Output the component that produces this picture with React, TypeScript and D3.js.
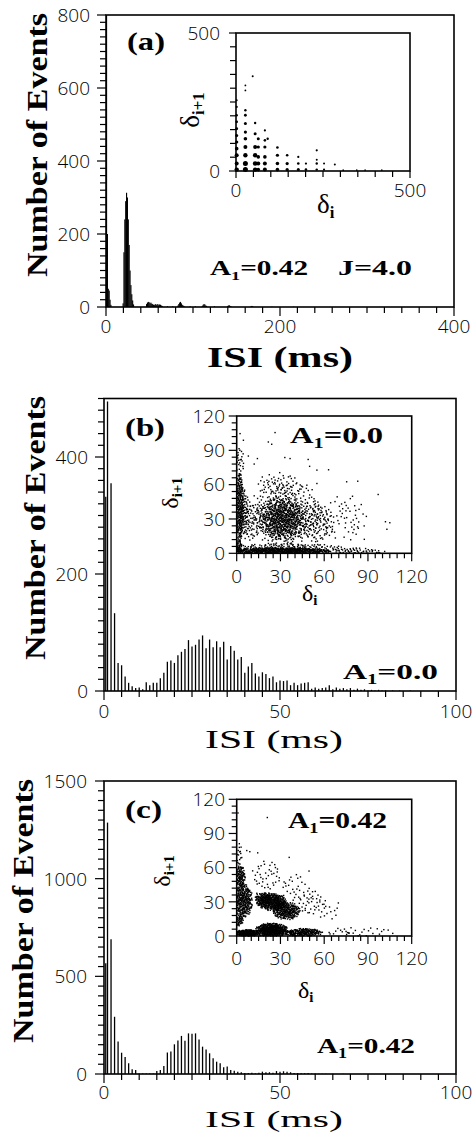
import React from 'react';
import * as d3 from 'd3';

// ---------- DATA ----------
// Panel (a): ISI histogram (1 ms bins), ISI in ms and counts
const isiA = [0, 1, 2, 3, 4, 5,
  19, 20, 21, 22, 23, 24, 25, 26, 27, 28, 29, 30, 31,
  46, 47, 48, 49, 50, 51, 52, 53, 54, 55, 56, 57, 58, 59, 60, 61, 62, 63, 64,
  70, 76, 82, 83, 84, 85, 86, 87, 88, 89, 96, 102,
  110, 111, 112, 113, 114, 115, 124, 139, 140, 141, 142, 143, 166, 167, 168, 190, 215];
const countA = [830, 200, 50, 45, 20, 6,
  10, 150, 240, 290, 313, 300, 240, 170, 100, 60, 35, 18, 7,
  8, 12, 14, 13, 10, 12, 9, 8, 6, 5, 8, 6, 7, 8, 5, 7, 6, 4, 3,
  2, 2, 4, 8, 12, 14, 10, 6, 4, 3, 2, 2,
  3, 6, 8, 7, 4, 3, 2, 2, 4, 5, 3, 2, 2, 3, 2, 1, 1];

// Panel (b): counts per 1-ms bin, ISI = index (0..99)
const countB = [332, 495, 355, 133, 48, 44, 25, 14, 8, 5,
  6, 3, 15, 10, 14, 14, 22, 31, 50, 52,
  48, 61, 67, 72, 87, 76, 79, 88, 95, 73,
  88, 75, 85, 75, 84, 54, 77, 69, 54, 58,
  31, 42, 48, 30, 25, 32, 29, 22, 25, 15,
  18, 17, 18, 10, 14, 10, 13, 14, 15, 4,
  6, 4, 5, 6, 10, 3, 6, 4, 5, 3,
  5, 2, 4, 2, 3, 1, 2, 1, 2, 1,
  1, 0, 1, 0, 1, 0, 0, 1, 0, 0,
  0, 0, 0, 0, 0, 0, 0, 0, 0, 0];

// Panel (c): counts per 1-ms bin, ISI = index (0..99)
const countC = [567, 1287, 690, 293, 167, 109, 87, 55, 24, 20,
  3, 2, 2, 3, 3, 15, 20, 41, 110, 115,
  152, 172, 195, 170, 208, 206, 208, 177, 140, 126,
  106, 80, 63, 55, 34, 38, 20, 17, 12, 9,
  5, 5, 7, 3, 7, 12, 9, 9, 7, 15,
  12, 14, 12, 9, 5, 5, 4, 4, 5, 2,
  2, 1, 1, 1, 0, 1, 0, 0, 1, 0,
  0, 0, 0, 0, 0, 0, 0, 0, 0, 0,
  0, 0, 0, 0, 0, 0, 0, 0, 0, 0,
  0, 0, 0, 0, 0, 0, 0, 0, 0, 0];

// Inset (a): return map lattice points [delta_i, delta_i+1, dot radius]
const returnA: [number, number, number][] = [
  [2, 5, 2.2], [2, 27, 2.0], [2, 57, 2.0], [2, 81, 1.8], [2, 105, 1.6], [2, 129, 1.5], [2, 153, 1.4], [2, 178, 1.3], [2, 202, 1.2], [2, 232, 1.1], [2, 256, 1.0],
  [27, 5, 2.5], [27, 27, 2.5], [27, 57, 2.2], [27, 87, 2.0], [27, 117, 1.8], [27, 141, 1.6], [27, 172, 1.5], [27, 202, 1.4], [27, 220, 1.2], [27, 292, 0.9], [27, 310, 0.9],
  [48, 343, 1.0],
  [55, 5, 2.2], [55, 27, 2.3], [55, 57, 2.2], [55, 87, 2.0], [55, 135, 1.5], [55, 174, 1.2],
  [64, 5, 1.8], [64, 27, 2.0], [64, 51, 1.8], [64, 87, 1.6], [64, 117, 1.5],
  [83, 5, 2.0], [83, 27, 2.0], [83, 51, 1.8], [83, 87, 1.6], [83, 111, 1.3], [83, 147, 1.1],
  [91, 117, 1.2],
  [119, 5, 1.8], [119, 27, 1.8], [119, 57, 1.6], [119, 85, 1.3],
  [147, 5, 1.6], [147, 27, 1.6], [147, 57, 1.3],
  [179, 5, 1.5], [179, 27, 1.3], [179, 51, 1.1],
  [201, 5, 1.3], [201, 27, 1.1],
  [232, 5, 1.2], [232, 27, 1.2], [232, 41, 1.0], [232, 75, 1.1],
  [253, 5, 1.1], [253, 27, 1.0], [284, 24, 1.0],
  [308, 3, 0.8], [347, 3, 0.8], [371, 3, 0.8], [419, 3, 0.8]];

// Inset (b): density blobs [cx, cy, rx, ry, dots, falloff] and isolated points
const blobsB: [number, number, number, number, number, number][] = [
  [2, 40, 2.8, 30, 260, 0.2], [5, 35, 3.5, 25, 80, 0.5], [2.5, 80, 3, 14, 25, 0.5], [1.5, 7, 2, 6, 40, 0.3],
  [30, 2, 34, 2.8, 520, 0.2], [36, 5, 40, 4, 150, 0.5], [80, 2, 22, 3, 60, 0.5],
  [31, 30, 19, 22, 650, 1.2], [34, 34, 28, 30, 330, 0.6], [55, 27, 13, 18, 120, 0.8], [30, 60, 17, 11, 60, 0.6],
  [75, 30, 16, 21, 55, 0.5], [10, 28, 6, 18, 60, 0.5]];
const pointsB: [number, number][] = [
  [2.3, 104.6], [4.6, 98.8], [26.3, 105.5], [21.7, 97.3], [24, 95.3], [14.2, 82.8], [33, 83.7],
  [36.6, 82.8], [49, 82], [55, 61], [63, 73], [75.4, 62.5], [83, 63], [97, 51.4], [102, 27.6],
  [105, 26.7], [103, 21], [87.5, 12.2], [97, 0.6], [50, 76], [55, 72.7], [8, 85], [12, 78]];

// Inset (c): density blobs and isolated points
const blobsC: [number, number, number, number, number, number][] = [
  [2.5, 52, 3.5, 10, 110, 0.4], [4.5, 31, 6.5, 16, 320, 0.5], [2, 13, 3, 4.5, 40, 0.4], [1.5, 70, 2, 12, 15, 0.3],
  [7, 2.5, 8, 3.2, 200, 0.3],
  [24, 30, 11, 8, 380, 0.6], [34, 22, 10, 8, 270, 0.6], [18, 34, 6, 5, 60, 0.5],
  [24, 5, 11.5, 6.5, 470, 0.5], [47, 3, 12, 4, 180, 0.5], [37, 2, 3.5, 2.5, 30, 0.4],
  [20, 53, 10, 13, 40, 0], [40, 42, 10, 12, 30, 0], [52, 29, 10, 11, 40, 0], [63, 21, 7, 7, 10, 0],
  [84, 4, 24, 4, 25, 0]];
const pointsC: [number, number][] = [
  [0.9, 108], [21, 104], [1.8, 81], [6.9, 75], [14.4, 73], [36, 69], [49.6, 57], [69.7, 29],
  [77, 2.3], [107, 2.3], [64, 1.8], [75, 4], [76, 3], [3, 78], [9, 74]];

// Tick values and labels
const ticksAx = d3.range(0, 401, 20); const labelsAx = [0, 200, 400];
const ticksAy = d3.range(0, 801, 20); const labelsAy = [0, 200, 400, 600, 800];
const ticksBx = d3.range(0, 101, 5); const labelsBx = [0, 50, 100];
const ticksBy = d3.range(0, 501, 20); const labelsBy = [0, 200, 400];
const ticksCx = d3.range(0, 101, 5); const labelsCx = [0, 50, 100];
const ticksCy = d3.range(0, 1501, 50); const labelsCy = [0, 500, 1000, 1500];
const ticksInA = d3.range(0, 501, 50); const labelsInA = [0, 500];
const ticksInx = d3.range(0, 121, 5); const ticksIny = d3.range(0, 121, 6); const labelsIn = [0, 30, 60, 90, 120];

// ---------- RENDER ----------
const serif = "'Liberation Serif', 'DejaVu Serif', serif";
const sans = "'Open Sans', 'DejaVu Sans', sans-serif";
const FS = 19;

function halton(i: number, b: number) {
  let f = 1, r = 0;
  while (i > 0) { f /= b; r += f * (i % b); i = Math.floor(i / b); }
  return r;
}

function Axes({ xs, ys, xTicks, xLabels, yTicks, yLabels, minor, major, xLabelY, yLabelX, fs }: any) {
  const [x0, x1] = xs.range();
  const [yb, yt] = ys.range();
  return (
    <g>
      <rect x={x0} y={yt} width={x1 - x0} height={yb - yt} fill="none" stroke="#000" strokeWidth={1.6} />
      {xTicks.map((t: number) => (
        <line key={'xt' + t} x1={xs(t)} x2={xs(t)} y1={yb} y2={yb + (xLabels.includes(t) ? major : minor)} stroke="#000" strokeWidth={1.2} />
      ))}
      {yTicks.map((t: number) => (
        <line key={'yt' + t} x1={x0} x2={x0 - (yLabels.includes(t) ? major : minor)} y1={ys(t)} y2={ys(t)} stroke="#000" strokeWidth={1.2} />
      ))}
      {xLabels.map((t: number) => (
        <text key={'xl' + t} x={xs(t)} y={xLabelY} textAnchor="middle" fontFamily={sans} fontWeight={300} fontSize={fs}>{t}</text>
      ))}
      {yLabels.map((t: number) => (
        <text key={'yl' + t} x={yLabelX} y={ys(t) + fs * 0.36} textAnchor="end" fontFamily={sans} fontWeight={300} fontSize={fs}>{t}</text>
      ))}
    </g>
  );
}

function ALabel({ x, y, value, size, width }: any) {
  return (
    <text x={x} y={y} fontFamily={serif} fontWeight="bold" fontSize={size} textLength={width} lengthAdjust="spacingAndGlyphs">
      A<tspan fontSize={size * 0.62} dy={size * 0.22}>1</tspan><tspan dy={-size * 0.22}>=</tspan>{value}
    </text>
  );
}

function DeltaI({ x, y, size }: any) {
  return (
    <text x={x} y={y} fontFamily={serif} fontSize={size}>
      δ<tspan fontSize={size * 0.62} fontWeight="bold" dy={size * 0.18}>i</tspan>
    </text>
  );
}

function DeltaI1({ x, y, size }: any) {
  return (
    <text transform={`translate(${x},${y}) rotate(-90)`} textAnchor="middle" fontFamily={serif} fontSize={size}>
      δ<tspan fontSize={size * 0.62} fontWeight="bold" dy={size * 0.18}>i+1</tspan>
    </text>
  );
}

function YTitle({ x, y }: any) {
  return (
    <text transform={`translate(${x},${y}) rotate(-90)`} textAnchor="middle" fontFamily={serif} fontWeight="bold" fontSize={30} textLength={264} lengthAdjust="spacingAndGlyphs">
      Number  of  Events
    </text>
  );
}

function Cloud({ blobs, points, xs, ys, seed }: any) {
  const dots: [number, number][] = [];
  let k = seed;
  blobs.forEach(([cx, cy, rx, ry, n, fall]: number[]) => {
    let got = 0, guard = 0;
    while (got < n && guard < n * 40) {
      k++; guard++;
      const dx = 2 * halton(k, 2) - 1;
      const dy = 2 * halton(k, 3) - 1;
      const d2 = dx * dx + dy * dy;
      if (d2 >= 1) continue;
      if (halton(k, 5) > Math.pow(1 - d2, fall)) continue;
      got++;
      const px = cx + rx * dx, py = cy + ry * dy;
      if (px >= 0 && py >= 0 && px <= 120 && py <= 120) dots.push([px, py]);
    }
  });
  points.forEach((p: [number, number]) => dots.push(p));
  return (
    <g>
      {dots.map((d, i) => (
        <rect key={i} x={xs(d[0]) - 0.7} y={ys(d[1]) - 0.7} width={1.4} height={1.4} fill="#000" />
      ))}
    </g>
  );
}

function Bars({ counts, xs, ys, ymax }: any) {
  const yb = ys.range()[0];
  return (
    <g>
      {counts.map((c: number, i: number) => c > 0 ? (
        <line key={i} x1={xs(i === 0 ? 0.5 : i)} x2={xs(i === 0 ? 0.5 : i)} y1={yb} y2={ys(Math.min(c, ymax))} stroke="#000" strokeWidth={1.3} />
      ) : null)}
    </g>
  );
}

export default function App() {
  // Panel (a)
  const xA = d3.scaleLinear().domain([0, 400]).range([106, 454]);
  const yA = d3.scaleLinear().domain([0, 800]).range([307, 15]);
  const ixA = d3.scaleLinear().domain([0, 500]).range([236, 410]);
  const iyA = d3.scaleLinear().domain([0, 500]).range([171, 33]);
  // Panel (b)
  const xB = d3.scaleLinear().domain([0, 100]).range([104, 456]);
  const yB = d3.scaleLinear().domain([0, 500]).range([691, 398.5]);
  const ixB = d3.scaleLinear().domain([0, 120]).range([236.7, 411.7]);
  const iyB = d3.scaleLinear().domain([0, 120]).range([553.3, 416]);
  // Panel (c)
  const xC = d3.scaleLinear().domain([0, 100]).range([104, 456]);
  const yC = d3.scaleLinear().domain([0, 1500]).range([1074, 781]);
  const ixC = d3.scaleLinear().domain([0, 120]).range([236.7, 411.7]);
  const iyC = d3.scaleLinear().domain([0, 120]).range([936, 799.3]);

  const bwA = xA(1) - xA(0);

  return (
    <svg width={474} height={1134} viewBox="0 0 474 1134" style={{ position: 'absolute', left: 0, top: 0, background: '#fff' }}>
      <rect width={474} height={1134} fill="#fff" />

      {/* ---------- Panel (a) ---------- */}
      <g>
        {isiA.map((t, i) => (
          <rect key={i} x={xA(t)} y={yA(Math.min(countA[i], 800))} width={bwA + 0.25} height={yA(0) - yA(Math.min(countA[i], 800))} fill="#000" />
        ))}
        <Axes xs={xA} ys={yA} xTicks={ticksAx} xLabels={labelsAx} yTicks={ticksAy} yLabels={labelsAy}
          minor={6} major={9} xLabelY={333} yLabelX={90} fs={FS} />
        <text x={127} y={50} fontFamily={serif} fontWeight="bold" fontSize={26} textLength={38} lengthAdjust="spacingAndGlyphs">(a)</text>
        <YTitle x={47} y={145} />
        <text x={207} y={367} fontFamily={serif} fontWeight="bold" fontSize={30} textLength={146} lengthAdjust="spacingAndGlyphs">ISI  (ms)</text>
        <ALabel x={210} y={275} value="0.42" size={21} width={98} />
        <text x={338} y={275} fontFamily={serif} fontWeight="bold" fontSize={21} textLength={74} lengthAdjust="spacingAndGlyphs">J=4.0</text>
        {/* inset */}
        <rect x={236} y={33} width={174} height={138} fill="#fff" />
        {returnA.map((p, i) => (
          <circle key={i} cx={ixA(p[0])} cy={iyA(p[1])} r={p[2]} fill="#000" />
        ))}
        <Axes xs={ixA} ys={iyA} xTicks={ticksInA} xLabels={labelsInA} yTicks={ticksInA} yLabels={labelsInA}
          minor={6} major={7} xLabelY={197} yLabelX={220} fs={FS} />
        <DeltaI x={317} y={213} size={27} />
        <DeltaI1 x={199} y={110} size={27} />
      </g>

      {/* ---------- Panel (b) ---------- */}
      <g>
        <Bars counts={countB} xs={xB} ys={yB} ymax={500} />
        <Axes xs={xB} ys={yB} xTicks={ticksBx} xLabels={labelsBx} yTicks={ticksBy} yLabels={labelsBy}
          minor={6} major={9} xLabelY={718} yLabelX={88} fs={FS} />
        <text x={125} y={436} fontFamily={serif} fontWeight="bold" fontSize={26} textLength={40} lengthAdjust="spacingAndGlyphs">(b)</text>
        <YTitle x={45} y={528} />
        <text x={205} y={748} fontFamily={serif} fontSize={25} textLength={138} lengthAdjust="spacingAndGlyphs">ISI  (ms)</text>
        <ALabel x={343} y={679} value="0.0" size={22} width={95} />
        <Cloud blobs={blobsB} points={pointsB} xs={ixB} ys={iyB} seed={7} />
        <Axes xs={ixB} ys={iyB} xTicks={ticksInx} xLabels={labelsIn} yTicks={ticksIny} yLabels={labelsIn}
          minor={5} major={8} xLabelY={583} yLabelX={225} fs={FS} />
        <ALabel x={290} y={443} value="0.0" size={23} width={93} />
        <DeltaI x={302} y={601} size={24} />
        <DeltaI1 x={178} y={493} size={24} />
      </g>

      {/* ---------- Panel (c) ---------- */}
      <g>
        <Bars counts={countC} xs={xC} ys={yC} ymax={1500} />
        <Axes xs={xC} ys={yC} xTicks={ticksCx} xLabels={labelsCx} yTicks={ticksCy} yLabels={labelsCy}
          minor={6} major={9} xLabelY={1099} yLabelX={87} fs={FS} />
        <text x={125} y={818} fontFamily={serif} fontWeight="bold" fontSize={26} textLength={37} lengthAdjust="spacingAndGlyphs">(c)</text>
        <YTitle x={33} y={911} />
        <text x={205} y={1127} fontFamily={serif} fontSize={24} textLength={138} lengthAdjust="spacingAndGlyphs">ISI  (ms)</text>
        <ALabel x={317} y={1053} value="0.42" size={22} width={98} />
        <Cloud blobs={blobsC} points={pointsC} xs={ixC} ys={iyC} seed={11} />
        <Axes xs={ixC} ys={iyC} xTicks={ticksInx} xLabels={labelsIn} yTicks={ticksIny} yLabels={labelsIn}
          minor={5} major={8} xLabelY={965} yLabelX={225} fs={FS} />
        <ALabel x={288} y={828} value="0.42" size={23} width={99} />
        <DeltaI x={298} y={998} size={24} />
        <DeltaI1 x={170} y={871} size={24} />
      </g>
    </svg>
  );
}
